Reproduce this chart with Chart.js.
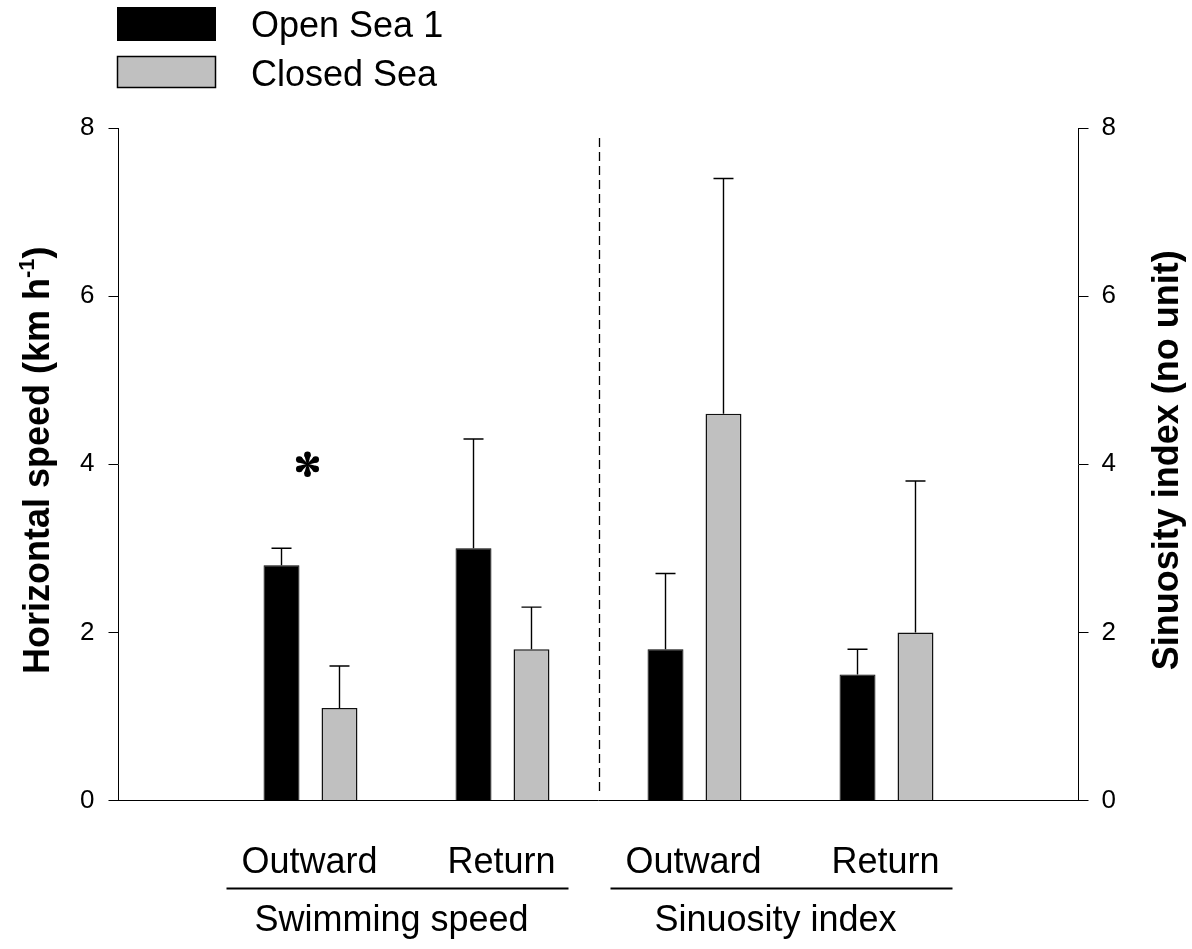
<!DOCTYPE html>
<html>
<head>
<meta charset="utf-8">
<script src="https://cdn.jsdelivr.net/npm/chart.js@4.4.1/dist/chart.umd.min.js"></script>
<style>
  html, body { margin: 0; padding: 0; background: #fff; }
  #wrap { width: 1192px; height: 949px; }
</style>
</head>
<body>
<div id="wrap"><canvas id="c" width="1192" height="949"></canvas></div>
<script>
// ---- data ----
const categories = ['Outward', 'Return', 'Outward', 'Return'];
const groups = ['Swimming speed', 'Sinuosity index'];
const seriesNames = ['Open Sea 1', 'Closed Sea'];
const openSea = [2.8, 3.0, 1.8, 1.5];
const openSeaErr = [0.2, 1.3, 0.9, 0.3];
const closedSea = [1.1, 1.8, 4.6, 2.0];
const closedSeaErr = [0.5, 0.5, 2.8, 1.8];
const yTicks = [0, 2, 4, 6, 8];
const significant = [true, false, false, false];
const significanceLevel = 4.0;

const FONT = "'Liberation Sans', Arial, Helvetica, sans-serif";
Chart.defaults.font.family = FONT;
Chart.defaults.color = '#000';

// one empty slot on each side of the four categories
const pad = a => [null, ...a, null];
const slotLabels = ['', ...categories, ''];

// upward-only error bars with a cap
const errorBars = {
  id: 'errorBars',
  afterDatasetsDraw(chart) {
    const ctx = chart.ctx;
    const y = chart.scales.y;
    chart.data.datasets.forEach((ds, di) => {
      const meta = chart.getDatasetMeta(di);
      meta.data.forEach((bar, i) => {
        const v = ds.data[i];
        if (v == null) return;
        const top = y.getPixelForValue(v + ds.errors[i]);
        ctx.save();
        ctx.strokeStyle = '#000';
        ctx.lineWidth = 1.4;
        ctx.beginPath();
        ctx.moveTo(bar.x, bar.y);
        ctx.lineTo(bar.x, top);
        ctx.moveTo(bar.x - 10, top);
        ctx.lineTo(bar.x + 10, top);
        ctx.stroke();
        ctx.restore();
      });
    });
  }
};

function drawAsterisk(ctx, cx, cy) {
  const L = 9.5, bulb = 3.3, neck = 0.7;
  ctx.save();
  ctx.fillStyle = '#000';
  for (let k = 0; k < 6; k++) {
    const a = -Math.PI / 2 + k * Math.PI / 3;
    const dx = Math.cos(a), dy = Math.sin(a);
    const px = -dy, py = dx;
    const ex = cx + dx * L, ey = cy + dy * L;
    ctx.beginPath();
    ctx.moveTo(cx + px * neck, cy + py * neck);
    ctx.lineTo(ex + px * bulb, ey + py * bulb);
    ctx.lineTo(ex - px * bulb, ey - py * bulb);
    ctx.lineTo(cx - px * neck, cy - py * neck);
    ctx.closePath();
    ctx.fill();
    ctx.beginPath();
    ctx.arc(ex, ey, bulb, 0, Math.PI * 2);
    ctx.fill();
  }
  ctx.restore();
}

// rotated title built from pieces (supports a superscript piece)
function drawRotatedTitle(ctx, x, cy, pieces) {
  ctx.save();
  ctx.translate(x, cy);
  ctx.rotate(-Math.PI / 2);
  ctx.textBaseline = 'alphabetic';
  ctx.textAlign = 'left';
  let total = 0;
  pieces.forEach(p => { ctx.font = `bold ${p.size}px ${FONT}`; p.w = ctx.measureText(p.text).width; total += p.w; });
  let cur = -total / 2;
  pieces.forEach(p => {
    ctx.font = `bold ${p.size}px ${FONT}`;
    ctx.fillText(p.text, cur, -(p.rise || 0));
    cur += p.w;
  });
  ctx.restore();
}

const decorations = {
  id: 'decorations',
  afterDraw(chart) {
    const ctx = chart.ctx;
    const x = chart.scales.x, y = chart.scales.y;
    const area = chart.chartArea;
    const px = i => x.getPixelForValue(i + 1);

    // dashed separator between the two panels
    const sepX = Math.round((px(1) + px(2)) / 2) + 0.5;
    ctx.save();
    ctx.strokeStyle = '#000';
    ctx.lineWidth = 1.3;
    ctx.setLineDash([9, 5]);
    ctx.beginPath();
    ctx.moveTo(sepX, area.top + 10);
    ctx.lineTo(sepX, area.bottom - 5);
    ctx.stroke();
    ctx.restore();

    // significance marks
    significant.forEach((s, i) => {
      if (s) drawAsterisk(ctx, px(i) - 3, y.getPixelForValue(significanceLevel));
    });

    // category labels
    ctx.save();
    ctx.fillStyle = '#000';
    ctx.font = `36px ${FONT}`;
    ctx.textAlign = 'center';
    ctx.textBaseline = 'alphabetic';
    categories.forEach((c, i) => ctx.fillText(c, px(i) - 1, area.bottom + 72));

    // group underlines and names
    ctx.strokeStyle = '#000';
    ctx.lineWidth = 2;
    groups.forEach((g, gi) => {
      const gc = (px(gi * 2) + px(gi * 2 + 1)) / 2;
      ctx.beginPath();
      ctx.moveTo(gc - 180, area.bottom + 88);
      ctx.lineTo(gc + 162, area.bottom + 88);
      ctx.stroke();
      ctx.fillText(g, gc - 15, area.bottom + 130);
    });
    ctx.restore();

    // legend
    ctx.save();
    ctx.fillStyle = '#000';
    ctx.fillRect(117, 7, 99, 34);
    ctx.fillStyle = '#c0c0c0';
    ctx.fillRect(117.5, 56.5, 98, 31);
    ctx.strokeStyle = '#000';
    ctx.lineWidth = 1.5;
    ctx.strokeRect(117.5, 56.5, 98, 31);
    ctx.fillStyle = '#000';
    ctx.font = `36px ${FONT}`;
    ctx.textAlign = 'left';
    ctx.textBaseline = 'alphabetic';
    ctx.fillText(seriesNames[0], 251, 37);
    ctx.fillText(seriesNames[1], 251, 86);
    ctx.restore();

    // axis titles
    const cy = (area.top + area.bottom) / 2 - 4;
    ctx.fillStyle = '#000';
    drawRotatedTitle(ctx, 49, cy, [
      { text: 'Horizontal speed (km h', size: 36 },
      { text: '-1', size: 22, rise: 15 },
      { text: ')', size: 36 }
    ]);
    drawRotatedTitle(ctx, 1178, cy, [{ text: 'Sinuosity index (no unit)', size: 36 }]);
  }
};

const yAxis = (position, width, padding) => ({
  position,
  min: 0,
  max: 8,
  afterBuildTicks: s => { s.ticks = yTicks.map(v => ({ value: v })); },
  ticks: { padding, font: { size: 26 }, color: '#000' },
  grid: { drawOnChartArea: false, drawTicks: true, tickLength: 10, color: '#000', lineWidth: 1 },
  border: { display: true, color: '#000', width: 1 },
  afterFit: s => { s.width = width; }
});

new Chart(document.getElementById('c'), {
  type: 'bar',
  data: {
    labels: slotLabels,
    datasets: [
      {
        label: seriesNames[0],
        data: pad(openSea),
        errors: pad(openSeaErr),
        backgroundColor: '#000',
        borderColor: '#000',
        borderWidth: 1,
        yAxisID: 'y'
      },
      {
        label: seriesNames[1],
        data: pad(closedSea),
        errors: pad(closedSeaErr),
        backgroundColor: '#c0c0c0',
        borderColor: '#111',
        borderWidth: 1.5,
        yAxisID: 'y'
      }
    ]
  },
  options: {
    responsive: false,
    animation: false,
    devicePixelRatio: 1,
    categoryPercentage: 0.604,
    barPercentage: 0.62,
    layout: { padding: { top: 128, left: 0, right: 0, bottom: 0 } },
    plugins: { legend: { display: false }, tooltip: { enabled: false } },
    scales: {
      x: {
        type: 'category',
        offset: false,
        grid: { display: false, drawTicks: false },
        ticks: { display: false },
        border: { display: true, color: '#000', width: 1 },
        afterFit: s => { s.height = 148.5; }
      },
      y: yAxis('left', 118.5, 14),
      y2: yAxis('right', 113.5, 13)
    }
  },
  plugins: [errorBars, decorations]
});
</script>
</body>
</html>
